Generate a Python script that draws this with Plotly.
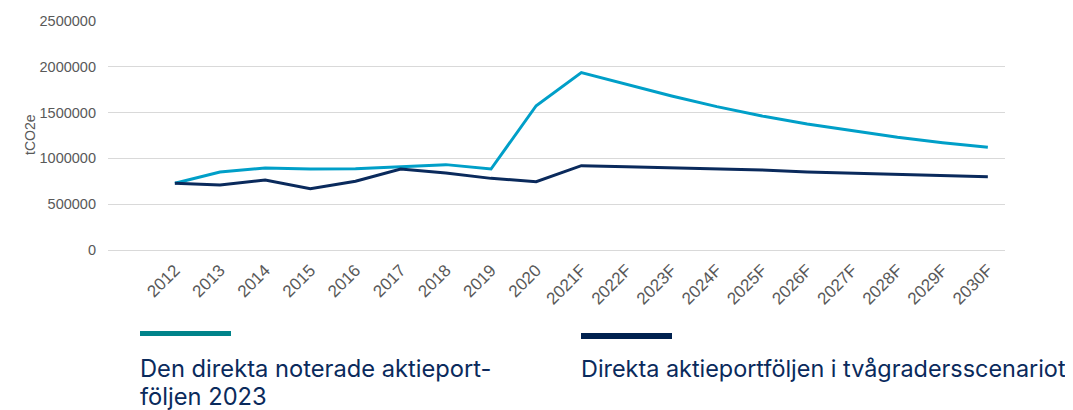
import plotly.graph_objects as go

years = ["2012", "2013", "2014", "2015", "2016", "2017", "2018", "2019", "2020",
         "2021F", "2022F", "2023F", "2024F", "2025F", "2026F", "2027F", "2028F", "2029F", "2030F"]
portfolio_2023 = [728000, 851000, 895000, 884000, 888000, 910000, 932000, 884000, 1575000,
                  1936000, 1809000, 1681000, 1565000, 1463000, 1375000, 1299000, 1230000, 1171000, 1121000]
two_degree = [728000, 710000, 764000, 670000, 750000, 884000, 841000, 782000, 746000,
              921000, 910000, 899000, 888000, 873000, 851000, 837000, 822000, 808000, 800000]
y_ticks = [0, 500000, 1000000, 1500000, 2000000, 2500000]
name1_line1 = "Den direkta noterade aktieport-"
name1_line2 = "följen 2023"
name2 = "Direkta aktieportföljen i tvågradersscenariot"

# page body has an 8px margin, so figure coords = screen coords - 8
OFF = 8
L, T = 108 - OFF, 21 - OFF
PW, PH = 897.0, 229.0
FW, FH = 1073, 410
R = FW - L - PW
B = FH - T - PH

fig = go.Figure()
fig.add_trace(go.Scatter(x=list(range(len(years))), y=portfolio_2023, mode="lines",
                         line=dict(color="#009fc8", width=3), showlegend=False))
fig.add_trace(go.Scatter(x=list(range(len(years))), y=two_degree, mode="lines",
                         line=dict(color="#0a2a5c", width=3), showlegend=False))

fig.update_layout(
    width=FW, height=FH,
    margin=dict(l=L, r=R, t=T, b=B, autoexpand=False),
    paper_bgcolor="white", plot_bgcolor="white",
    font=dict(family="Liberation Sans, Arial", color="#595959", size=14),
    xaxis=dict(tickmode="array", tickvals=list(range(len(years))), ticktext=years,
               range=[-1.48, 18.38], tickangle=-45, showgrid=False, zeroline=False,
               showline=False, ticks="", ticklabelstandoff=6, automargin=False,
               tickfont=dict(size=17, color="#595959")),
    yaxis=dict(tickvals=y_ticks, ticktext=[str(v) for v in y_ticks], range=[0, 2500000],
               showgrid=True, gridcolor="#d9d9d9", gridwidth=1, zeroline=True,
               zerolinecolor="#d9d9d9", zerolinewidth=1, ticks="", ticklabelstandoff=11,
               automargin=False, tickfont=dict(size=14.5, color="#595959")),
    showlegend=False,
)

def px(x):
    return (x - OFF - L) / PW
def py(y):
    return (T + PH - (y - OFF)) / PH

fig.add_shape(type="rect", xref="paper", yref="paper", x0=px(140), x1=px(231), y0=py(336), y1=py(331),
              fillcolor="#00838a", line=dict(width=0))
fig.add_shape(type="rect", xref="paper", yref="paper", x0=px(581), x1=px(672), y0=py(339), y1=py(333),
              fillcolor="#00214f", line=dict(width=0))

txt_font1 = dict(family="Inter, Roboto", size=23.7, color="#0a2a5c")
txt_font2 = dict(family="Inter, Roboto", size=23.4, color="#0a2a5c")
fig.add_annotation(xref="paper", yref="paper", x=px(138), y=py(368), xanchor="left", yanchor="middle",
                   text=name1_line1, showarrow=False, align="left", font=txt_font1)
fig.add_annotation(xref="paper", yref="paper", x=px(138), y=py(396), xanchor="left", yanchor="middle",
                   text=name1_line2, showarrow=False, align="left", font=txt_font1)
fig.add_annotation(xref="paper", yref="paper", x=px(579), y=py(368), xanchor="left", yanchor="middle",
                   text=name2, showarrow=False, align="left", font=txt_font2)
fig.add_annotation(xref="paper", yref="paper", x=px(30), y=py(135), xanchor="center", yanchor="middle",
                   text="tCO2e", textangle=-90, showarrow=False,
                   font=dict(family="Liberation Sans, Arial", size=14, color="#595959"))

fig.write_html("out.html")
